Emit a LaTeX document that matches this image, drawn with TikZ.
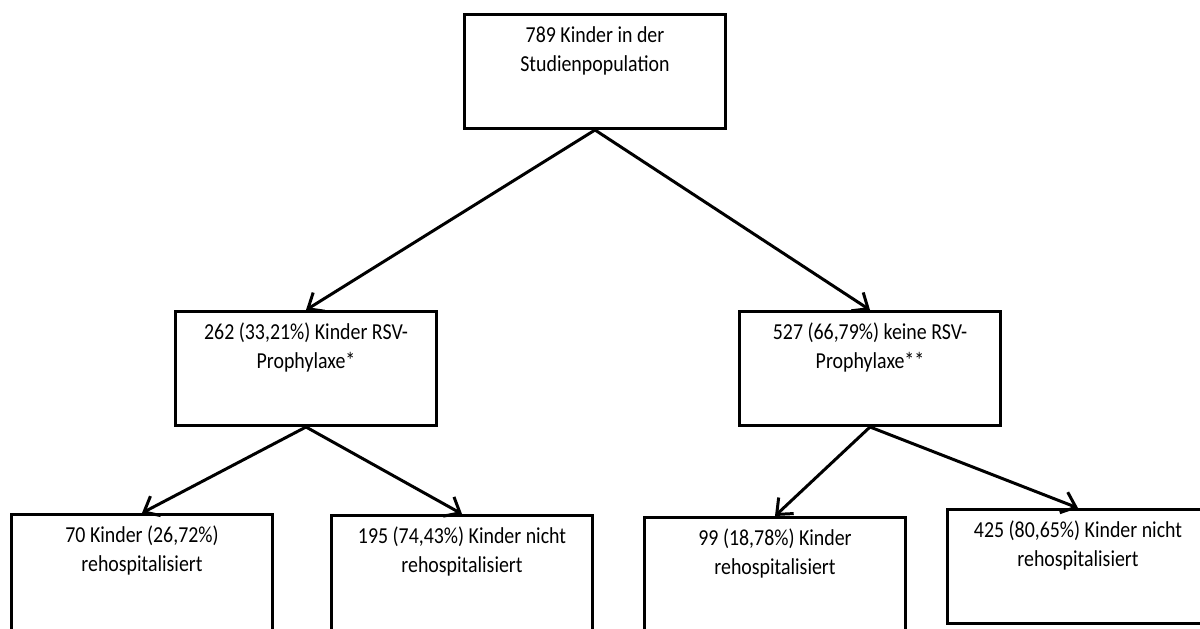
\documentclass[tikz,border=0pt]{standalone}
\usepackage{fontspec}
\setmainfont{Carlito}[FakeStretch=0.87]
\usetikzlibrary{arrows.meta}
\newcommand{\boxtext}[2][2.28cm]{\parbox[t][#1][t]{5.22cm}{\fontsize{13}{16.5}\selectfont\centering\rule{0pt}{0.57cm}#2}}

\begin{document}
\begin{tikzpicture}[x=0.2mm, y=-0.2mm,
  flowbox/.style={draw, line width=1.7pt, inner sep=0pt, anchor=north},
  flowarrow/.style={line width=1.7pt, -{Straight Barb[length=2.6mm, width=4.4mm]}}]
  \useasboundingbox (0,0) rectangle (1200,629);

  % Studienpopulation
  \node[flowbox] (pop) at (595,13) {\boxtext{789 Kinder in der\\Studienpopulation}};

  % Prophylaxe ja / nein
  \node[flowbox] (proph) at (306,310) {\boxtext{262 (33,21\%) Kinder RSV-\\Prophylaxe*}};
  \node[flowbox] (noproph) at (870,310) {\boxtext{527 (66,79\%) keine RSV-\\Prophylaxe**}};

  % Rehospitalisierung
  \node[flowbox] (prophre) at (142,513) {\boxtext[2.5cm]{70 Kinder (26,72\%)\\rehospitalisiert}};
  \node[flowbox] (prophnre) at (462,514) {\boxtext[2.5cm]{195 (74,43\%) Kinder nicht\\rehospitalisiert}};
  \node[flowbox] (noprophre) at (775,516) {\boxtext[2.5cm]{99 (18,78\%) Kinder\\rehospitalisiert}};
  \node[flowbox] (noprophnre) at (1078,508) {\boxtext{425 (80,65\%) Kinder nicht\\rehospitalisiert}};

  % Arrows
  \draw[flowarrow] (pop.south) -- (proph.north);
  \draw[flowarrow] (pop.south) -- (noproph.north);
  \draw[flowarrow] (proph.south) -- (prophre.north);
  \draw[flowarrow] (proph.south) -- (prophnre.north);
  \draw[flowarrow] (noproph.south) -- (noprophre.north);
  \draw[flowarrow] (noproph.south) -- (noprophnre.north);
\end{tikzpicture}
\end{document}
